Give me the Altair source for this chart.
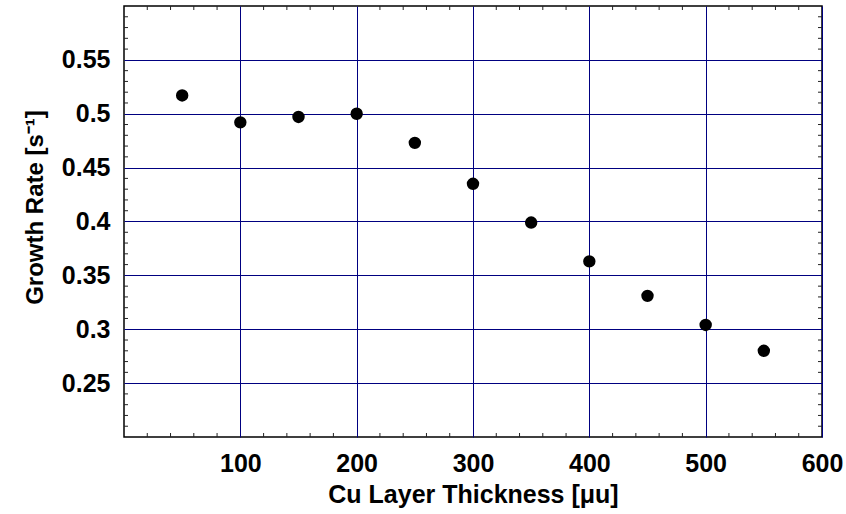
import altair as alt
import pandas as pd

# Data
thickness = [50, 100, 150, 200, 250, 300, 350, 400, 450, 500, 550]
growth_rate = [0.517, 0.492, 0.497, 0.500, 0.473, 0.435, 0.399, 0.363, 0.331, 0.304, 0.280]

x_major = [100, 200, 300, 400, 500, 600]
y_major = [0.25, 0.3, 0.35, 0.4, 0.45, 0.5, 0.55]
x_minor = [v for v in range(20, 600, 20) if v % 100 != 0]
y_minor = [round(0.2 + 0.01 * i, 2) for i in range(1, 40) if i % 5 != 0]

W, H = 698, 431
FONT = "Liberation Sans"
GRID = "#000080"

df = pd.DataFrame({"x": thickness, "y": growth_rate})
xs = alt.Scale(domain=[0, 600], nice=False, zero=False)
ys = alt.Scale(domain=[0.2, 0.6], nice=False, zero=False)

points = alt.Chart(df).mark_circle(size=154, color="black", opacity=1).encode(
    x=alt.X("x:Q", scale=xs, axis=alt.Axis(
        values=x_major, format="d", grid=True, gridColor=GRID, gridWidth=1, gridOpacity=1,
        domain=False, ticks=False, labelFont=FONT, labelFontWeight="bold", labelFontSize=25,
        labelColor="black", labelPadding=14, title="Cu Layer Thickness [μu]",
        titleFont=FONT, titleFontWeight="bold", titleFontSize=25, titleColor="black",
        titlePadding=6, labelFlush=False)),
    y=alt.Y("y:Q", scale=ys, axis=alt.Axis(
        values=y_major, format="~g", grid=True, gridColor=GRID, gridWidth=1, gridOpacity=1,
        domain=False, ticks=False, labelFont=FONT, labelFontWeight="bold", labelFontSize=25,
        labelColor="black", labelPadding=14, title="Growth Rate [s⁻¹]",
        titleFont=FONT, titleFontWeight="bold", titleFontSize=24, titleColor="black",
        titleX=-89, titleY=201, titleBaseline="middle", titleAlign="center",
        labelFlush=False)),
)

xdf = pd.DataFrame({"v": x_minor})
ydf = pd.DataFrame({"v": y_minor})
TL = 4
tick_col = "#222222"
bottom = alt.Chart(xdf).mark_rule(color=tick_col, strokeWidth=1).encode(
    x=alt.X("v:Q", scale=xs), y=alt.value(H), y2=alt.value(H - TL))
top = alt.Chart(xdf).mark_rule(color=tick_col, strokeWidth=1).encode(
    x=alt.X("v:Q", scale=xs), y=alt.value(0), y2=alt.value(TL))
left = alt.Chart(ydf).mark_rule(color=tick_col, strokeWidth=1).encode(
    y=alt.Y("v:Q", scale=ys), x=alt.value(0), x2=alt.value(TL))
right = alt.Chart(ydf).mark_rule(color=tick_col, strokeWidth=1).encode(
    y=alt.Y("v:Q", scale=ys), x=alt.value(W), x2=alt.value(W - TL))

chart = alt.layer(points, bottom, top, left, right).properties(
    width=W, height=H,
    background="white",
    autosize=alt.AutoSizeParams(type="none"),
    padding={"left": 124, "top": 6, "right": 24, "bottom": 77},
).configure_view(stroke="black", strokeWidth=1.5)

chart.save("out.html", embed_options={"renderer": "svg", "actions": False})
